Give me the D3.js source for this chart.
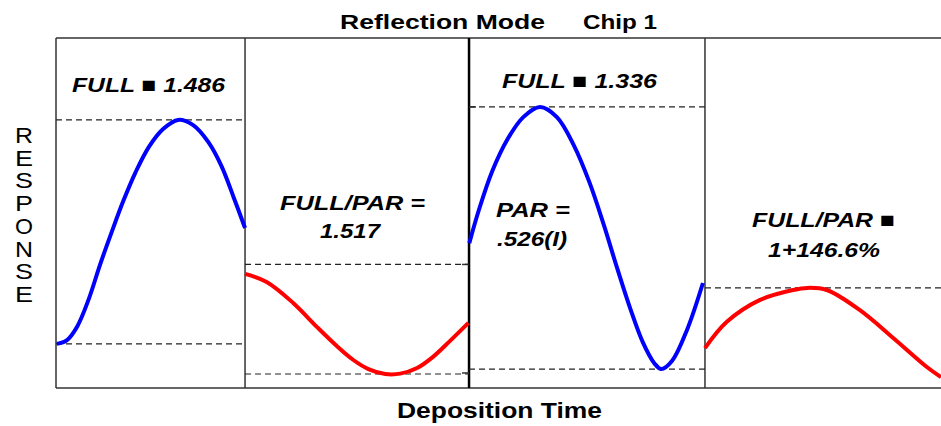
<!DOCTYPE html>
<html>
<head>
<meta charset="utf-8">
<script src="https://cdn.jsdelivr.net/npm/d3@7"></script>
<style>
  body { margin: 0; background: #fff; }
  svg { display: block; }
  text { font-family: "Liberation Sans", Arial, sans-serif; fill: #000; }
</style>
</head>
<body>
<div id="chart"></div>
<script>
// deposition time (arbitrary units 0-100) and response (0-100)
var panelEdges = [0, 21.36, 46.67, 73.33, 100];

var fullChip1 = [[0.1,12.6],[1.2,13.6],[2.4,17.6],[3.7,25.4],[5.0,35.4],[6.3,44.6],[7.6,53.4],[9.0,61.7],
  [10.5,68.9],[12.1,74.0],[13.8,76.6],[15.5,75.1],[17.2,70.3],[18.7,63.4],[20.1,54.3],[21.36,45.7]];
var parChip1 = [[21.36,32.6],[23.8,30.3],[26.8,24.3],[29.5,17.4],[31.6,12.3],[33.6,8.0],[35.3,5.4],[37.2,4.0],
  [38.9,4.1],[40.8,5.7],[42.6,8.9],[44.5,13.4],[46.6,18.6]];
var fullChip2 = [[46.7,41.4],[47.8,51.0],[49.3,62.0],[51.0,71.0],[52.8,77.4],[54.7,80.3],[56.6,77.4],[58.5,69.4],
  [60.3,58.6],[61.9,46.6],[63.4,34.3],[64.9,22.6],[66.3,13.1],[67.6,7.1],[68.4,5.4],[69.6,7.7],[71.3,16.6],[73.1,30.0]];
var parChip2 = [[73.33,11.4],[75.8,18.9],[79.5,25.1],[83.3,28.0],[84.9,28.6],[87.1,28.0],[90.8,22.3],[94.6,14.3],
  [98.4,6.0],[100,3.1]];

// dashed reference levels per panel: [from, to, response]
var levels = [[0,21.36,76.6],[0,21.36,12.6],[21.36,46.67,35.3],[21.36,46.67,4.0],
  [46.67,73.33,80.3],[46.67,73.33,5.4],[73.33,100,28.6]];
var ticksLeft = [35.3, 4.3];
var ticksRight = [80.3];

var labels = ["FULL \u25A0 1.486", "FULL/PAR =", "1.517", "FULL \u25A0 1.336", "PAR =", ".526(I)", "FULL/PAR \u25A0", "1+146.6%"];
var yLetters = "RESPONSE".split("");

var width = 941, height = 426;
var svg = d3.select("#chart").append("svg").attr("width", width).attr("height", height);

var x = d3.scaleLinear().domain([0, 100]).range([56, 941]);
var y = d3.scaleLinear().domain([0, 100]).range([388, 38]);

// frame
var frame = svg.append("g").attr("stroke", "#333").attr("stroke-width", 1.5).attr("fill", "none");
frame.append("line").attr("x1", x(0)).attr("x2", x(100)).attr("y1", y(100)).attr("y2", y(100));
frame.append("line").attr("x1", x(0)).attr("x2", x(100)).attr("y1", y(0)).attr("y2", y(0));
frame.selectAll(".div").data(panelEdges.slice(0, 4)).enter().append("line")
  .attr("x1", function(d) { return x(d); }).attr("x2", function(d) { return x(d); })
  .attr("y1", y(100)).attr("y2", y(0))
  .attr("stroke", function(d, i) { return i == 2 ? "#000" : "#333"; })
  .attr("stroke-width", function(d, i) { return i == 2 ? 2.5 : 1.5; });

// tiny ticks on the middle divider
var mid = x(panelEdges[2]);
frame.selectAll(".tl").data(ticksLeft).enter().append("line")
  .attr("x1", mid - 7).attr("x2", mid).attr("y1", function(d) { return y(d); }).attr("y2", function(d) { return y(d); });
frame.selectAll(".tr").data(ticksRight).enter().append("line")
  .attr("x1", mid).attr("x2", mid + 7).attr("y1", function(d) { return y(d); }).attr("y2", function(d) { return y(d); });

// dashed levels
svg.append("g").selectAll("line").data(levels).enter().append("line")
  .attr("x1", function(d) { return x(d[0]); }).attr("x2", function(d) { return x(d[1]); })
  .attr("y1", function(d) { return y(d[2]); }).attr("y2", function(d) { return y(d[2]); })
  .attr("stroke", "#222").attr("stroke-width", 1.2).attr("stroke-dasharray", "6,4");

// curves
var line = d3.line()
  .x(function(d) { return x(d[0]); })
  .y(function(d) { return y(d[1]); })
  .curve(d3.curveCatmullRom.alpha(0.5));

[[fullChip1, "#0000ff"], [parChip1, "#ff0000"], [fullChip2, "#0000ff"], [parChip2, "#ff0000"]].forEach(function(s) {
  svg.append("path").datum(s[0]).attr("d", line)
    .attr("fill", "none").attr("stroke", s[1]).attr("stroke-width", 4).attr("stroke-linejoin", "round");
});

// annotations
var annPos = [[72,92,153],[280,210,145],[320,238,60],[502,88,155],[496,217,74],[497,246,70],[752,227,143],[768,257,112]];
svg.append("g").selectAll("text").data(labels).enter().append("text")
  .attr("x", function(d, i) { return annPos[i][0]; })
  .attr("y", function(d, i) { return annPos[i][1]; })
  .attr("textLength", function(d, i) { return annPos[i][2]; })
  .attr("lengthAdjust", "spacingAndGlyphs")
  .attr("font-size", "21px").attr("font-weight", "bold").attr("font-style", "italic")
  .text(function(d) { return d; });

// title
svg.append("text").attr("x", 340).attr("y", 29).attr("textLength", 205).attr("lengthAdjust", "spacingAndGlyphs")
  .attr("font-size", "20px").attr("font-weight", "bold").text("Reflection Mode");
svg.append("text").attr("x", 583).attr("y", 29).attr("textLength", 74).attr("lengthAdjust", "spacingAndGlyphs")
  .attr("font-size", "20px").attr("font-weight", "bold").text("Chip 1");

// axis titles
svg.append("text").attr("x", 397).attr("y", 418).attr("textLength", 205).attr("lengthAdjust", "spacingAndGlyphs")
  .attr("font-size", "22px").attr("font-weight", "bold").text("Deposition Time");

svg.append("g").selectAll("text").data(yLetters).enter().append("text")
  .attr("x", 15).attr("y", function(d, i) { return 143 + i * 22.7; })
  .attr("textLength", 18).attr("lengthAdjust", "spacingAndGlyphs")
  .attr("font-size", "22px")
  .text(function(d) { return d; });
</script>
</body>
</html>
